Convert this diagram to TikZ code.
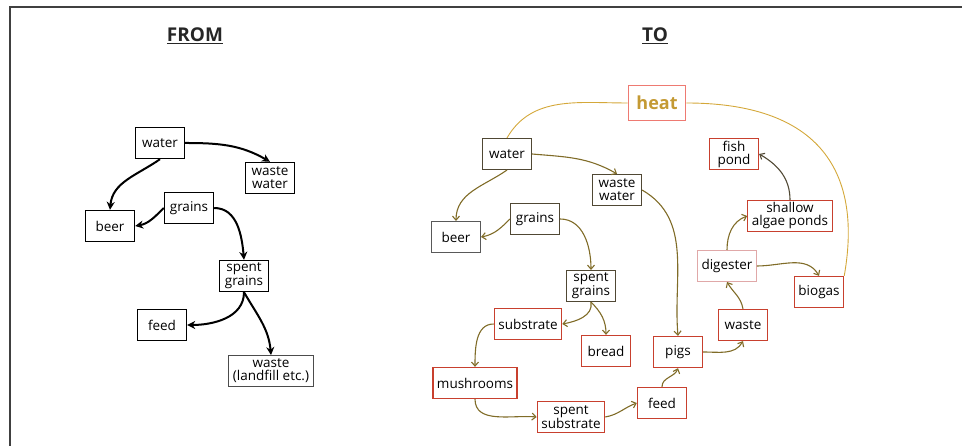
\documentclass[tikz,border=0pt]{standalone}
\usepackage{fontspec}
\setmainfont{Open Sans}
\usetikzlibrary{arrows.meta}

\definecolor{heatgold}{RGB}{212,168,58}
\definecolor{heattext}{RGB}{196,154,52}
\definecolor{heatred}{RGB}{238,122,114}
\definecolor{flowolive}{RGB}{128,108,40}
\definecolor{boxred}{RGB}{200,64,46}
\definecolor{boxdark}{RGB}{80,72,52}
\definecolor{digpink}{RGB}{224,168,168}

\tikzset{
  lbox/.style={draw=black, line width=1.4pt, minimum width=49pt, minimum height=31pt,
    inner xsep=4pt, inner ysep=1pt, align=center, font=\fontsize{13.5}{13}\selectfont},
  rbox/.style={lbox, draw=boxdark, line width=1.1pt},
  redbox/.style={lbox, draw=boxred, line width=1.3pt},
  flowL/.style={line width=2pt, -{Stealth[length=8pt,width=8pt,open,fill=gray!50]}},
  flowR/.style={line width=1.1pt, draw=flowolive, -{Straight Barb[length=4pt,width=7pt]}},
  heatline/.style={line width=0.9pt, draw=heatgold},
  title/.style={font=\fontsize{19}{19}\selectfont\bfseries, text=black!85}
}

\begin{document}
\begin{tikzpicture}[x=1pt,y=1pt]
  \useasboundingbox (0,0) rectangle (962,446);
  % frame
  \draw[line width=2.5pt, black!75] (10,0) -- (10,439) -- (962,439);

  % FROM
  \node[title] (from) at (195,410) {\underline{FROM}};
  \node[lbox] (lwater) at (160,303) {water};
  \node[lbox] (lwastewater) at (270,268) {waste\\water};
  \node[lbox] (lgrains) at (189,238) {grains};
  \node[lbox] (lbeer) at (110,220) {beer};
  \node[lbox] (lspent) at (244,170) {spent\\grains};
  \node[lbox] (lfeed) at (162,121) {feed};
  \node[lbox, draw=black!70, line width=0.9pt] (llandfill) at (271,75) {waste\\(landfill etc.)};

  \draw[flowL] (lwater.south) to[out=215,in=85] (lbeer.north);
  \draw[flowL] (lwater.east) to[out=0,in=150] (lwastewater.north);
  \draw[flowL] (lgrains.west) to[out=225,in=10] (lbeer.east);
  \draw[flowL] (lgrains.east) to[out=0,in=95] (lspent.north);
  \draw[flowL] (lspent.south) to[out=-90,in=0] (lfeed.east);
  \draw[flowL] (lspent.south) to[out=-60,in=95] (llandfill.north);

  % TO
  \node[title] (to) at (655,410) {\underline{TO}};
  \node[lbox, draw=heatred, line width=1.8pt, font=\fontsize{18}{18}\selectfont\bfseries,
    text=heattext, minimum width=57pt, minimum height=35pt] (heat) at (657,343) {heat};
  \node[rbox] (water) at (507,292) {water};
  \node[rbox] (wastewater) at (617,256) {waste\\water};
  \node[rbox] (grains) at (535,227) {grains};
  \node[rbox, draw=gray!70!black] (beer) at (456,209) {beer};
  \node[rbox] (spentgrains) at (591,160) {spent\\grains};
  \node[redbox] (substrate) at (528,122) {substrate};
  \node[redbox] (bread) at (606,95) {bread};
  \node[redbox] (pigs) at (678,94) {pigs};
  \node[redbox] (mushrooms) at (475,63) {mushrooms};
  \node[redbox] (spentsub) at (571,29) {spent\\substrate};
  \node[redbox] (feed) at (662,43) {feed};
  \node[redbox] (waste) at (743,121) {waste};
  \node[redbox, draw=digpink, line width=1pt] (digester) at (727,180) {digester};
  \node[redbox] (biogas) at (819,154) {biogas};
  \node[redbox] (algae) at (790,230) {shallow\\algae ponds};
  \node[redbox] (fishpond) at (734,292) {fish\\pond};

  \draw[heatline] (water.north) to[out=60,in=180] (heat.west);
  \draw[heatline] (heat.east) to[out=0,in=80,looseness=1.3] (biogas.north east);

  \draw[flowR] (water.south) to[out=215,in=90] (beer.north);
  \draw[flowR] (water.east) to[out=-5,in=150] (wastewater.north);
  \draw[flowR] (grains.west) to[out=225,in=10] (beer.east);
  \draw[flowR] (grains.east) to[out=0,in=90] (spentgrains.north);
  \draw[flowR] (wastewater.east) to[out=-30,in=95] (pigs.north);
  \draw[flowR] (spentgrains.south) to[out=-80,in=10] (substrate.east);
  \draw[flowR] (spentgrains.south) to[out=-45,in=90] (bread.north);
  \draw[flowR] (substrate.west) to[out=180,in=90] (mushrooms.north);
  \draw[flowR] (mushrooms.south) to[out=-90,in=175] (spentsub.west);
  \draw[flowR] (spentsub.east) to[out=10,in=200] (feed.west);
  \draw[flowR] (feed.north) to[out=90,in=250] (pigs.south);
  \draw[flowR] (pigs.east) to[out=0,in=240] (waste.south);
  \draw[flowR] (waste.north) to[out=100,in=-60] (digester.south);
  \draw[flowR] (digester.north) to[out=90,in=200] (algae.west);
  \draw[flowR] (digester.east) to[out=0,in=120] (biogas.north);
  \draw[flowR, draw=boxdark] (algae.north) to[out=90,in=-30] (fishpond.east);
\end{tikzpicture}
\end{document}
